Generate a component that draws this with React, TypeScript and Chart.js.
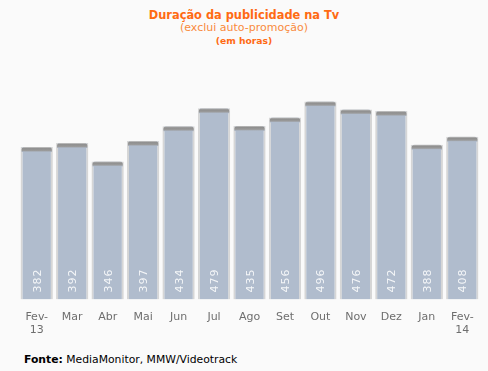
import React, { useEffect, useRef } from "react";
import { Chart, registerables } from "chart.js";

Chart.register(...registerables);

const categories: (string | string[])[] = [
  ["Fev-", "13"], "Mar", "Abr", "Mai", "Jun", "Jul", "Ago", "Set", "Out", "Nov", "Dez", "Jan", ["Fev-", "14"],
];
const hours = [382, 392, 346, 397, 434, 479, 435, 456, 496, 476, 472, 388, 408];

const titleText = "Duração da publicidade na Tv";
const subtitleText = "(exclui auto-promoção)";
const unitText = "(em horas)";
const sourceLabel = "Fonte:";
const sourceText = " MediaMonitor, MMW/Videotrack";

const FONT = "Verdana, 'DejaVu Sans', sans-serif";
const BAR_COLOR = "#b0bccd";

const barDecor = {
  id: "barDecor",
  afterDatasetsDraw(chart: any) {
    const ctx = chart.ctx;
    const meta = chart.getDatasetMeta(0);
    const yScale = chart.scales.y;
    ctx.save();
    meta.data.forEach((bar: any, i: number) => {
      const { x, y, width } = bar.getProps(["x", "y", "width"], true);
      const left = x - width / 2;
      const g = ctx.createLinearGradient(0, y, 0, y + 5);
      g.addColorStop(0, "#c8c8c8");
      g.addColorStop(0.3, "#8e8e8e");
      g.addColorStop(0.7, "#9a9a9a");
      g.addColorStop(1, BAR_COLOR);
      ctx.fillStyle = g;
      ctx.beginPath();
      ctx.roundRect(left + 1, y, width - 2, 5, [3, 3, 0, 0]);
      ctx.fill();
      ctx.save();
      ctx.translate(x + 4, yScale.getPixelForValue(0) - 7);
      ctx.rotate(-Math.PI / 2);
      ctx.fillStyle = "#f4f6f8";
      ctx.font = "11px " + FONT;
      ctx.textAlign = "left";
      ctx.textBaseline = "alphabetic";
      (ctx as any).letterSpacing = "1px";
      ctx.fillText(String(hours[i]), 0, 0);
      ctx.restore();
    });
    ctx.restore();
  },
};

export default function App() {
  const ref = useRef<HTMLCanvasElement | null>(null);
  useEffect(() => {
    if (!ref.current) return;
    const chart = new Chart(ref.current, {
      type: "bar",
      data: {
        labels: categories as any,
        datasets: [
          {
            data: hours,
            backgroundColor: BAR_COLOR,
            borderColor: "#d6d6d6",
            borderWidth: { left: 2, right: 2, top: 0, bottom: 0 } as any,
            borderSkipped: false,
            barPercentage: 0.91,
            categoryPercentage: 1,
          },
        ],
      },
      options: {
        animation: false,
        responsive: false,
        maintainAspectRatio: false,
        layout: { padding: { left: 19, right: 8, top: 60, bottom: 0 } },
        plugins: {
          legend: { display: false },
          tooltip: { enabled: false },
          title: { display: false },
        },
        scales: {
          x: {
            grid: { display: false },
            border: { display: false },
            ticks: {
              color: "#6e6e6e",
              font: { family: FONT, size: 11 },
              maxRotation: 0,
              autoSkip: false,
              padding: 3,
            },
          },
          y: {
            display: false,
            min: 0,
            max: 600,
          },
        },
      },
      plugins: [barDecor],
    });
    return () => chart.destroy();
  }, []);

  return (
    <div
      style={{
        position: "fixed",
        left: 0,
        top: 0,
        width: 488,
        height: 371,
        background: "#fafafa",
        fontFamily: FONT,
      }}
    >
      <div style={{ position: "absolute", left: 0, width: 488, top: 9, textAlign: "center", color: "#ff6a13", fontSize: 11.4, fontWeight: "bold", lineHeight: "13px" }}>
        {titleText}
      </div>
      <div style={{ position: "absolute", left: 0, width: 488, top: 22, textAlign: "center", color: "#f98a3c", fontSize: 11, lineHeight: "12px" }}>
        {subtitleText}
      </div>
      <div style={{ position: "absolute", left: 0, width: 488, top: 35, textAlign: "center", color: "#ff6a13", fontSize: 9.2, fontWeight: "bold", lineHeight: "11px" }}>
        {unitText}
      </div>
      <canvas ref={ref} width={488} height={340} style={{ position: "absolute", left: 0, top: 0, display: "block" }} />
      <div style={{ position: "absolute", left: 24, top: 353, color: "#000", fontSize: 10.8, lineHeight: "13px" }}>
        <b>{sourceLabel}</b>
        {sourceText}
      </div>
    </div>
  );
}
